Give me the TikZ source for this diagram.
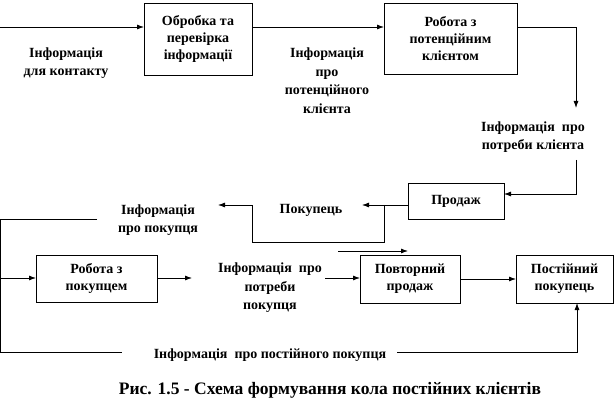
\documentclass[tikz,border=0pt]{standalone}
\usepackage{fontspec}
\setmainfont{Liberation Serif}
\usetikzlibrary{arrows.meta}
\begin{document}
\begin{tikzpicture}[x=1pt,y=-1pt,
  every node/.style={inner sep=0pt,outer sep=0pt},
  box/.style={draw,line width=0.8pt,align=center,font=\fontsize{14}{17}\selectfont\bfseries},
  lbl/.style={align=center,font=\fontsize{14}{18.5}\selectfont\bfseries},
  conn/.style={line width=0.8pt},
  arr/.style={line width=0.8pt,-{Latex[length=7pt,width=5pt]}}]
\useasboundingbox (0,0) rectangle (616,414);
% boxes
\node[box,minimum width=108pt,minimum height=72pt] (b1) at (198,39) {Обробка та\\перевірка\\інформації};
\node[box,minimum width=133pt,minimum height=71pt] (b2) at (450.5,38.5) {Робота з\\потенційним\\клієнтом};
\node[box,minimum width=96pt,minimum height=36pt] (b3) at (456,201) {Продаж};
\node[box,minimum width=121pt,minimum height=47pt] (b4) at (96.5,278.5) {Робота з\\покупцем};
\node[box,minimum width=100pt,minimum height=48pt] (b5) at (410,279) {Повторний\\продаж};
\node[box,minimum width=97pt,minimum height=48pt] (b6) at (564.5,279) {Постійний\\покупець};
% labels
\node[lbl] (l1) at (66,63) {Інформація\\для контакту};
\node[lbl] (l2) at (327,80.5) {Інформація\\про\\потенційного\\клієнта};
\node[lbl] (l3) at (533,137) {Інформація\ \ про\\потреби клієнта};
\node[lbl] (l4) at (311,210) {Покупець};
\node[lbl] (l5) at (158,220) {Інформація\\про покупця};
\node[lbl] (l6) at (270,288) {Інформація\ \ про\\потреби\\покупця};
\node[lbl] (l7) at (270,355) {Інформація\ \ про постійного покупця};
\node[font=\fontsize{17.5}{20}\selectfont\bfseries] (cap) at (330,390) {Рис. 1.5 - Схема формування кола постійних клієнтів};
% coordinates
\coordinate (in0) at (0,27);
\coordinate (c1) at (576,27);
\coordinate (c2) at (576,108);
\coordinate (c3) at (576,160);
\coordinate (c4) at (576,194);
\coordinate (p1) at (362,205);
\coordinate (p2) at (384,205);
\coordinate (p3) at (384,242);
\coordinate (p4) at (252,242);
\coordinate (p5) at (252,205);
\coordinate (p6) at (218,205);
\coordinate (q1) at (97,219);
\coordinate (q2) at (0,219);
\coordinate (q3) at (0,352);
\coordinate (q4) at (122,352);
\coordinate (q5) at (397,352);
\coordinate (q6) at (577,352);
\coordinate (r1) at (0,278);
\coordinate (r2) at (192,278);
\coordinate (r3) at (325,278);
\coordinate (s1) at (338,251);
\coordinate (s2) at (408,251);
% connectors
\draw[arr] (in0) -- (in0 -| b1.west);
\draw[arr] (in0 -| b1.east) -- (in0 -| b2.west);
\draw[arr] (in0 -| b2.east) -- (c1) -- (c2);
\draw[arr] (c3) -- (c4) -- (c4 -| b3.east);
\draw[arr] (p1 -| b3.west) -- (p1);
\draw[arr] (p2) -- (p3) -- (p4) -- (p5) -- (p6);
\draw[conn] (q1) -- (q2) -- (q3) -- (q4);
\draw[arr] (q5) -- (q6) -- (q6 |- b6.south);
\draw[arr] (r1) -- (r1 -| b4.west);
\draw[arr] (r1 -| b4.east) -- (r2);
\draw[arr] (r3) -- (r3 -| b5.west);
\draw[arr] (s1) -- (s2);
\draw[arr] (b5.east) -- (b6.west);
\end{tikzpicture}
\end{document}
